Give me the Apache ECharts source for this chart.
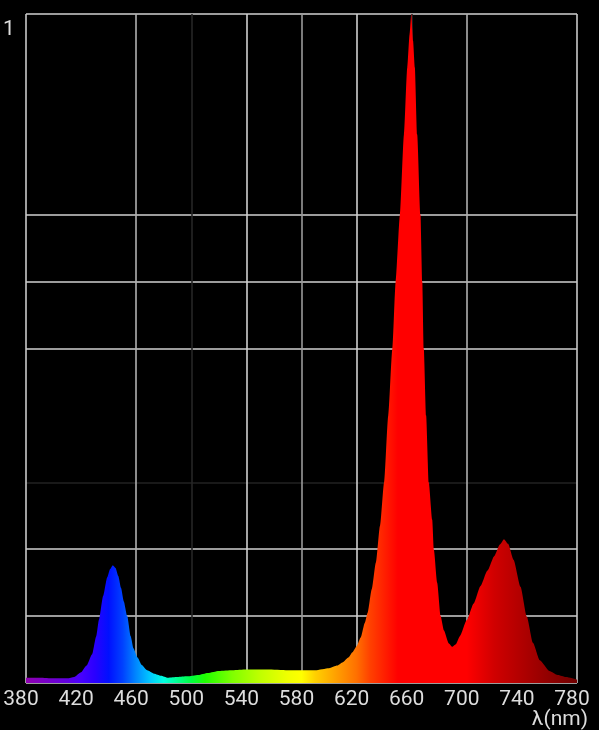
<!DOCTYPE html>
<html>
<head>
<meta charset="utf-8">
<script src="https://cdn.jsdelivr.net/npm/echarts@6/dist/echarts.min.js"></script>
<style>
  html, body { margin: 0; padding: 0; background: #000; }
  #chart { width: 599px; height: 730px; }
</style>
</head>
<body>
<div id="chart"></div>
<script>
// wavelength (nm) and relative intensity
const wavelengths = [
  380, 390, 400, 410, 415, 420, 424, 428, 431, 433, 436, 439, 441, 443, 445, 447, 449, 451,
  453.5, 456, 458, 461, 464, 468, 473, 478, 483, 490, 497, 505, 512, 520, 530, 540, 555, 570,
  590, 600, 606, 610, 614, 617, 620, 623, 626, 628, 631, 634, 637, 640, 643, 646, 648.4, 651.5,
  654.4, 656.8, 658.5, 659.7, 661, 662.3, 664, 666.4, 667.7, 668.8, 670.5, 672.4, 674.9, 676.1,
  678.5, 681, 683.3, 687, 689.4, 692, 695, 700, 705, 710, 715, 720, 724, 727, 730, 734, 739,
  743.6, 748, 753, 760, 766, 772, 780
];
const intensity = [
  0.008, 0.008, 0.007, 0.007, 0.009, 0.016, 0.026, 0.043, 0.070, 0.095, 0.130, 0.158, 0.170, 0.176, 0.172, 0.160, 0.142, 0.122,
  0.100, 0.070, 0.052, 0.038, 0.027, 0.019, 0.014, 0.011, 0.008, 0.009, 0.010, 0.012, 0.015, 0.018, 0.019, 0.020, 0.020, 0.019,
  0.019, 0.022, 0.026, 0.031, 0.038, 0.046, 0.055, 0.068, 0.090, 0.105, 0.140, 0.180, 0.235, 0.300, 0.400, 0.500, 0.600, 0.700,
  0.820, 0.920, 0.970, 1.000, 0.960, 0.920, 0.820, 0.700, 0.600, 0.500, 0.400, 0.300, 0.244, 0.199,
  0.150, 0.100, 0.079, 0.059, 0.054, 0.058, 0.070, 0.094, 0.119, 0.145, 0.168, 0.190, 0.207, 0.215, 0.208, 0.184, 0.144,
  0.099, 0.060, 0.034, 0.018, 0.012, 0.009, 0.005
];

// colour of the spectrum along the wavelength axis
const spectrumNm = [380, 410, 420, 430, 440, 450, 460, 470, 480, 490, 500, 510, 530, 550, 570, 580, 590, 600, 610, 620, 630, 640, 650, 700, 720, 740, 760, 780];
const spectrumColors = ['#9000b0', '#6000e0', '#4800ff', '#2a00ff', '#0010ff', '#0040ff', '#0088ff', '#00c8ff', '#00ffe0', '#00ff90',
  '#00ff40', '#20ff00', '#80ff00', '#c0ff00', '#f0ff00', '#ffff00', '#ffd000', '#ffb000', '#ff9000', '#ff7000', '#ff4000', '#ff2000',
  '#ff0000', '#ff0000', '#d00000', '#b00000', '#900000', '#700000'];

const xTicks = [380, 420, 460, 500, 540, 580, 620, 660, 700, 740, 780];

// grid line shades, one per tick
const xGridColors = ['#c8c8c8', 'transparent', '#b0b0b0', '#262626', '#d0d0d0', '#9a9a9a', '#d0d0d0', '#262626', '#b0b0b0', 'transparent', '#c8c8c8'];
const yGridColors = ['#d0d0d0', '#d0d0d0', '#d0d0d0', '#222222', 'transparent', '#d0d0d0', '#d0d0d0', '#d0d0d0', 'transparent', 'transparent', '#d0d0d0'];

const chart = echarts.init(document.getElementById('chart'));
const xMin = xTicks[0], xMax = xTicks[xTicks.length - 1];

chart.setOption({
  backgroundColor: '#000',
  animation: false,
  grid: { left: 24, right: 22, top: 14, bottom: 47 },
  xAxis: {
    type: 'value',
    min: xMin,
    max: xMax,
    interval: 40,
    axisLine: { show: false },
    axisTick: { show: false },
    axisLabel: {
      color: '#dddddd',
      fontFamily: 'Roboto',
      fontSize: 21,
      margin: 6,
      padding: [0, 10, 0, 0],
      showMinLabel: true,
      showMaxLabel: true
    },
    splitLine: { show: true, lineStyle: { color: xGridColors, width: 1.6 } }
  },
  yAxis: {
    type: 'value',
    min: 0,
    max: 1,
    interval: 0.1,
    axisLine: { show: false },
    axisTick: { show: false },
    axisLabel: {
      color: '#dddddd',
      fontFamily: 'Roboto',
      fontSize: 21,
      align: 'left',
      verticalAlign: 'top',
      margin: 23,
      padding: [5, 0, 0, 0],
      formatter: v => (v === 1 ? '1' : '')
    },
    splitLine: { show: true, lineStyle: { color: yGridColors, width: 1.6 } }
  },
  graphic: [{
    type: 'text',
    right: 11,
    top: 709,
    style: { text: 'λ(nm)', fill: '#dddddd', font: '21px Roboto' }
  }],
  series: [{
    type: 'line',
    data: wavelengths.map((w, i) => [w, intensity[i]]),
    showSymbol: false,
    smooth: 0.2,
    smoothMonotone: 'x',
    lineStyle: { width: 0, opacity: 0 },
    areaStyle: {
      opacity: 1,
      color: new echarts.graphic.LinearGradient(0, 0, 1, 0,
        spectrumNm.map((nm, i) => ({ offset: (nm - xMin) / (xMax - xMin), color: spectrumColors[i] })))
    }
  }]
});
</script>
</body>
</html>
